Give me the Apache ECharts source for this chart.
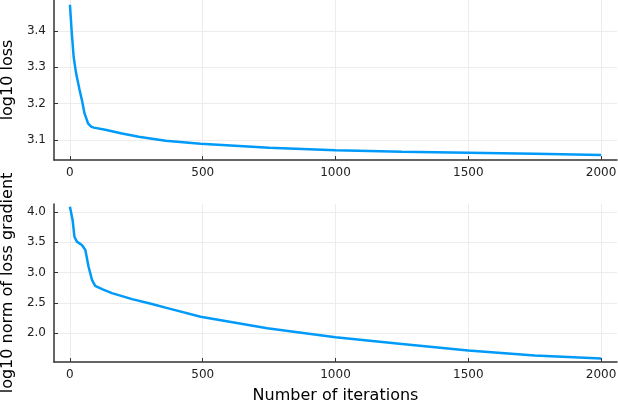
<!DOCTYPE html>
<html>
<head>
<meta charset="utf-8">
<script src="https://cdn.jsdelivr.net/npm/echarts@6/dist/echarts.min.js"></script>
<style>
  html, body { margin: 0; padding: 0; background: #fff; }
  #main { width: 618px; height: 402px; }
</style>
</head>
<body>
<div id="main"></div>
<script>
// iteration numbers and values
const lossIters = [0, 7, 14, 23, 35, 45, 55, 68, 80, 90, 133, 196, 259, 360, 492, 750, 1000, 1250, 1500, 1750, 2000];
const lossVals = [3.472, 3.394, 3.329, 3.284, 3.242, 3.21, 3.173, 3.146, 3.137, 3.134, 3.128, 3.118, 3.109, 3.098, 3.09, 3.079, 3.072, 3.068, 3.065, 3.062, 3.059];

const gradIters = [0, 10, 17, 26, 45, 58, 70, 83, 95, 121, 158, 234, 309, 360, 492, 743, 1000, 1250, 1500, 1750, 2000];
const gradVals = [4.087, 3.868, 3.59, 3.51, 3.455, 3.373, 3.1, 2.878, 2.78, 2.725, 2.66, 2.56, 2.48, 2.42, 2.27, 2.08, 1.93, 1.82, 1.71, 1.63, 1.58];

const xTicks = [0, 500, 1000, 1500, 2000];
const lossTicks = [3.1, 3.2, 3.3, 3.4];
const gradTicks = [2.0, 2.5, 3.0, 3.5, 4.0];

var chartDom = document.getElementById("main");
var myChart = echarts.init(chartDom);

const font = "DejaVu Sans";
const lineColor = "#009af9";

function xAxis(gridIndex, name) {
  return {
    type: "value",
    gridIndex: gridIndex,
    min: -60,
    max: 2060,
    name: name,
    nameLocation: "middle",
    nameGap: 26,
    nameTextStyle: { fontFamily: font, fontSize: 16, color: "#000" },
    axisLine: { onZero: false, lineStyle: { color: "#333", width: 1.5 } },
    axisTick: { inside: true, length: 4, customValues: xTicks, lineStyle: { color: "#333" } },
    axisLabel: {
      customValues: xTicks,
      formatter: (v) => String(v),
      fontFamily: font,
      fontSize: 12,
      color: "#222",
      margin: 7,
    },
    splitLine: { show: true, lineStyle: { color: "#ececec", width: 1 } },
  };
}

function yAxis(gridIndex, name, min, max, ticks) {
  return {
    type: "value",
    gridIndex: gridIndex,
    min: min,
    max: max,
    name: name,
    nameLocation: "middle",
    nameGap: 38,
    nameTextStyle: { fontFamily: font, fontSize: 16, color: "#000" },
    axisLine: { show: true, onZero: false, lineStyle: { color: "#333", width: 1.5 } },
    axisTick: { inside: true, length: 4, customValues: ticks, lineStyle: { color: "#333" } },
    axisLabel: {
      customValues: ticks,
      formatter: (v) => v.toFixed(1),
      fontFamily: font,
      fontSize: 12,
      color: "#222",
      margin: 8,
    },
    splitLine: { show: true, lineStyle: { color: "#ececec", width: 1 } },
  };
}

var option = {
  backgroundColor: "#fff",
  animation: false,
  grid: [
    { left: 54, right: 1, top: 0, height: 160, outerBoundsMode: "none", containLabel: false },
    { left: 54, right: 1, top: 204, height: 158, outerBoundsMode: "none", containLabel: false },
  ],
  xAxis: [xAxis(0, ""), xAxis(1, "Number of iterations")],
  yAxis: [
    yAxis(0, "log10 loss", 3.045, 3.485, lossTicks),
    yAxis(1, "log10 norm of loss gradient", 1.521, 4.132, gradTicks),
  ],
  series: [
    {
      type: "line",
      xAxisIndex: 0,
      yAxisIndex: 0,
      data: lossIters.map((x, i) => [x, lossVals[i]]),
      symbol: "none",
      lineStyle: { color: lineColor, width: 2.5 },
    },
    {
      type: "line",
      xAxisIndex: 1,
      yAxisIndex: 1,
      data: gradIters.map((x, i) => [x, gradVals[i]]),
      symbol: "none",
      lineStyle: { color: lineColor, width: 2.5 },
    },
  ],
};

option && myChart.setOption(option);
</script>
</body>
</html>
